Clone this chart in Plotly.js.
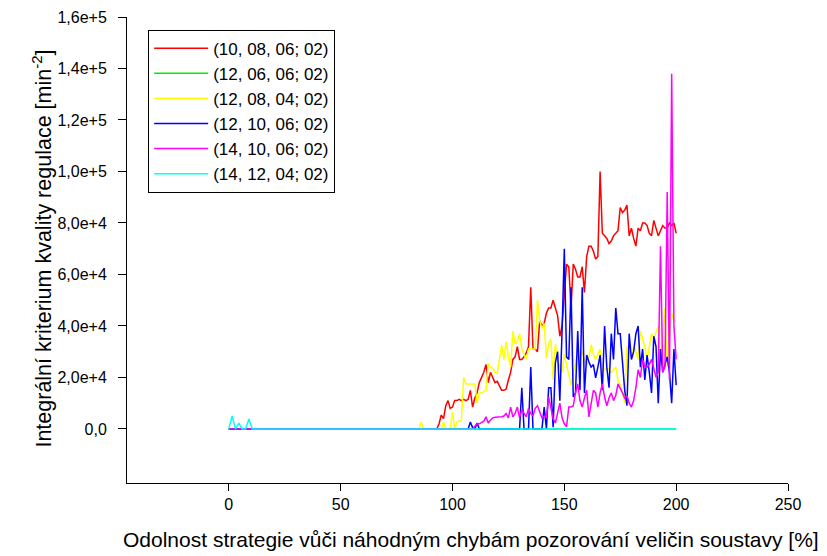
<!DOCTYPE html>
<html>
<head>
<meta charset="utf-8">
<script src="https://cdn.plot.ly/plotly-3.0.1.min.js"></script>
<style>html,body{margin:0;padding:0;background:#fff;}#chart{width:827px;height:556px;}</style>
</head>
<body>
<div id="chart"></div>
<script>
// values in thousands (×1000)
var seriesNames = ["(10, 08, 06; 02)", "(12, 06, 06; 02)", "(12, 08, 04; 02)", "(12, 10, 06; 02)", "(14, 10, 06; 02)", "(14, 12, 04; 02)"];
var seriesColors = ["#ff0000", "#00ee00", "#ffff00", "#0000ff", "#ff00ff", "#00ffff"];

var xRed = [0,92,93,94,95,96,97,98,99,100,101,102,103,104,105,106,107,108,109,110,111,112,113,114,115,116,117,118,119,120,121,122,123,124,125,126,127,128,129,130,131,132,133,134,135,136,137,138,139,140,141,142,143,144,145,146,147,148,149,150,151,152,153,154,155,156,157,158,159,160,161,162,163,164,165,166,167,168,169,170,171,172,173,174,175,176,177,178,179,180,181,182,183,184,185,186,187,188,189,190,191,192,193,194,195,196,197,198,199,200];
var yRed = [0,0,0,2,5.4,4,9,11,8,8.5,11,11,11.5,11,11.5,11,11.5,15,8.5,12,14,18,20,22,25,18,22,20,18,18.5,17,15,15,15.5,19,22,27,28,32,27,27,28,29.5,32,55,31,31,30,42,40,41,45,47,47,50,47,44,36,40,52,64,63,47,64,62,59,59,63,53,67,71,71,69,66,67,100,76,75,74,72,73,75,76,77,86,84,85,87,75,78,74,71,78,77,80,80,79,76,75,81,78,75,77,79,78,78,80,79,80,76];

var xGreen = [0,200];
var yGreen = [0,0];

var xYellow = [0,85,86,87,95,96,97,99,100,101,102,103,104,105,106,107,108,109,110,111,112,113,114,115,116,117,118,119,120,121,122,123,124,125,126,127,128,129,130,131,132,133,134,135,136,137,138,139,140,141,142,143,144,145,146,147,148,149,150,151,152,153,154,155,156,157,158,159,160,161,162,163,164,165,166,167,168,169,170,171,172,173,174,175,176,177,178,179,180,181,182,183,184,185,186,187,188,189,190,191,192,193,194,195,196,197,198,199,200];
var yYellow = [0,0,2.7,0,0,2.7,0,0,6.6,0,2.7,3,3.5,20,17.5,17.5,17.5,17.5,17.5,10,14,14,14.5,15,25.6,24,23.7,22,21.7,28,32.6,27,34,28,24,38,33,34,37,31,29,27,31,31,31,31,50,42,39,41,27.5,33,35,19,33,27,24,22,29,25,22,17,22,25.6,29,28,30,27,24,28,32.6,29,27,29,31,22,23,24,23,22,23,24,19,17,14,10,32,30,28,32,30,27,38,35,32,27,32,37,35,38,40,27,35,47,24,35,45,42,42];

var xBlue = [0,107,108,109,110,111,112,130,131,132,134,135,136,140,141,142,143,144,145,146,147,148,149,150,151,152,153,154,155,156,157,158,159,160,161,162,163,164,165,166,167,168,169,170,171,172,173,174,175,176,177,178,179,180,181,182,183,184,185,186,187,188,189,190,191,192,193,194,195,196,197,198,199,200];
var yBlue = [0,0,2.7,0.5,0,2.3,0,0,16,0,0,24,0,0,8.5,0,16,16,0.7,25.6,30,11,38,70,28,27,55,12.4,14,38,15,55,14,28.7,26,24,25,19.8,24,28.7,15,40,24,16,37,27,47,37,37,24,15,9,37,27,30,37,40,24,31,19,28.7,22,14,36,32,10,31,22,25,28,22,10,31,17];

var xMagenta = [0,109,110,111,112,113,114,115,116,117,118,119,120,121,122,123,124,125,126,127,128,129,130,131,132,133,134,135,136,137,138,139,140,141,142,143,144,145,146,147,148,149,150,151,152,153,154,155,156,157,158,159,160,161,162,163,164,165,166,167,168,169,170,171,172,173,174,175,176,177,178,179,180,181,182,183,184,185,186,187,188,189,190,191,192,193,194,195,196,197,198,199,200];
var yMagenta = [0,0,1,2,2,2.5,3,4.7,2.3,3.5,4.3,4.5,4.5,4.7,4.7,5,6,4.3,8.5,4.7,6,8.5,4.3,7.4,6,4.7,8,6,5,8,9,7,4.3,5,4.5,12.4,8,4,2.3,6,10,4.3,2,0.8,8.5,8.5,9,14,17.5,11,8.5,12,15,4.7,10,15,14,8.5,14,17.5,12.4,9,12,14,11,13,17.5,16,14,12,13,10,8.5,11,16,23,20,27,24,24,25,27,24,20,22,71,22,24,92,19,138,40,27];

var xCyan = [0,1.5,3,4.5,6,7.5,9,10.5,200];
var yCyan = [0,5,0,2.3,0,0,3.9,0,0];

var xTickVals = [0,50,100,150,200,250];
var xTickText = ["0","50","100","150","200","250"];
var yTickVals = [0,20,40,60,80,100,120,140,160];
var yTickText = ["0,0","2,0e+4","4,0e+4","6,0e+4","8,0e+4","1,0e+5","1,2e+5","1,4e+5","1,6e+5"];
var xTitle = "Odolnost strategie vůči náhodným chybám pozorování veličin soustavy [%]";
var yTitle = "Integrální kriterium kvality regulace [min<sup>-2</sup>]";

var xs = [xRed, xGreen, xYellow, xBlue, xMagenta, xCyan];
var ys = [yRed, yGreen, yYellow, yBlue, yMagenta, yCyan];

var traces = xs.map(function(x, i){
  return {x: x, y: ys[i], type: "scatter", mode: "lines", name: seriesNames[i],
          line: {color: seriesColors[i], width: 1.5}};
});

var font = "Liberation Sans, Arial, sans-serif";
var layout = {
  width: 827, height: 556,
  margin: {l: 127, r: 39, t: 17, b: 73},
  paper_bgcolor: "#fff", plot_bgcolor: "#fff",
  showlegend: true,
  font: {family: font, color: "#000", size: 16},
  legend: {x: 0.032, y: 0.973, xanchor: "left", yanchor: "top",
           bgcolor: "#fff", bordercolor: "#000", borderwidth: 1,
           font: {family: font, size: 17, color: "#000"}, itemwidth: 54},
  xaxis: {range: [-45.5, 250], tickvals: xTickVals, ticktext: xTickText,
          showgrid: false, zeroline: false, showline: true, linecolor: "#000", linewidth: 1,
          ticks: "outside", ticklen: 7, tickcolor: "#000", tickfont: {size: 16}},
  yaxis: {range: [-21, 160], tickvals: yTickVals, ticktext: yTickText,
          showgrid: false, zeroline: false, showline: true, linecolor: "#000", linewidth: 1,
          ticks: "outside", ticklen: 8, tickcolor: "#000", tickfont: {size: 16},
          ticklabelstandoff: 8},
  annotations: [
    {text: xTitle, xref: "paper", yref: "paper", x: 0.5204, y: -0.1223,
     xanchor: "center", yanchor: "middle", showarrow: false, font: {size: 21}},
    {text: yTitle, xref: "paper", yref: "paper", x: -0.1286, y: 0.503, textangle: -90,
     xanchor: "center", yanchor: "middle", showarrow: false, font: {size: 21.5}}
  ]
};

Plotly.newPlot("chart", traces, layout, {displayModeBar: false, staticPlot: true});
</script>
</body>
</html>
